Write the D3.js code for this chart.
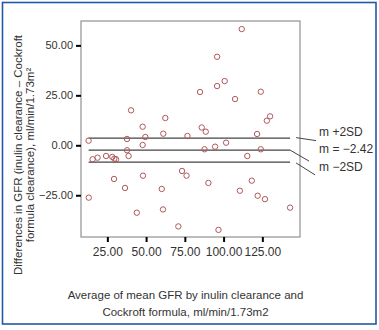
<!DOCTYPE html>
<html>
<head>
<meta charset="utf-8">
<script src="https://cdn.jsdelivr.net/npm/d3@7"></script>
<style>
  body { margin: 0; background: #fff; }
  text { font-family: "Liberation Sans", Arial, sans-serif; fill: #333; }
</style>
</head>
<body>
<script>
// average GFR (x) and difference inulin - Cockroft (y)
const avgGfr = [12.9, 40.3, 62.4, 47.8, 37.7, 49.5, 61.1, 76.7, 47.8, 37.7, 38.7, 24.2, 18.7, 15.5,
  28.2, 29.5, 30.6, 29.3, 36.4, 48.0, 60.1, 13.0, 44.0, 60.9, 70.8, 73.2, 76.1,
  111.7, 95.8, 100.7, 95.8, 84.8, 124.0, 107.4, 130.0, 127.9, 85.9, 88.5, 121.6,
  87.7, 94.5, 101.6, 124.0, 115.3, 90.2, 118.2, 110.5, 122.0, 126.7, 142.9, 96.7]
const diffGfr = [2.3, 17.5, 13.65, 9.3, 3.15, 4.15, 5.8, 4.65, 0.15, -2.5, -5.35, -5.35, -6.2, -7.0,
  -5.85, -6.7, -7.0, -16.85, -21.35, -15.2, -21.85, -26.2, -33.75, -32.1, -40.6, -12.85, -15.2,
  58.15, 44.3, 32.15, 29.65, 26.65, 26.8, 23.15, 14.5, 12.3, 8.9, 6.8, 5.65,
  -2.0, -0.7, 1.3, -2.0, -5.35, -18.85, -17.7, -22.75, -25.25, -26.95, -31.2, -42.35]

const refValues = [3.58, -2.42, -8.42]
const refLabels = ['m +2SD', 'm = \u22122.42', 'm \u22122SD']
const xTicks = [25, 50, 75, 100, 125]
const yTicks = [-25, 0, 25, 50]
const xTitle = ['Average of mean GFR by inulin clearance and', 'Cockroft formula, ml/min/1.73m2']
const yTitle = ['Differences in GFR (inulin clearance \u2013 Cockroft', 'formula clearance), ml/min/1.73m\u00b2']

const W = 379, H = 330
const margin = {top: 21, right: 79, bottom: 93, left: 81}
const width = W - margin.left - margin.right
const height = H - margin.top - margin.bottom

const svg = d3.select('body').append('svg')
  .attr('width', W).attr('height', H)

// blue outer border
svg.append('rect')
  .attr('x', 2.5).attr('y', 2.5).attr('width', 373.5).attr('height', 321.5)
  .attr('fill', 'none').attr('stroke', '#2358a6').attr('stroke-width', 1.6)

const g = svg.append('g').attr('transform', `translate(${margin.left},${margin.top})`)

const x = d3.scaleLinear().domain([8, 149.3]).range([0, width])
const y = d3.scaleLinear().domain([-45.9, 62.2]).range([height, 0])

// frame
g.append('rect')
  .attr('width', width).attr('height', height)
  .attr('fill', 'none').attr('stroke', '#9a9a9a').attr('stroke-width', 1.3)

const yAxis = g.append('g')
  .call(d3.axisLeft(y).tickValues(yTicks).tickFormat(d3.format('.2f')).tickSize(5).tickPadding(3))
yAxis.select('.domain').remove()
yAxis.selectAll('line').attr('stroke', '#000').attr('stroke-width', 2)
yAxis.selectAll('text').style('font-size', '11px').attr('fill', '#333')

const xAxis = g.append('g')
  .attr('transform', `translate(0,${height})`)
  .call(d3.axisBottom(x).tickValues(xTicks).tickFormat(d3.format('.2f')).tickSize(5).tickPadding(5))
xAxis.select('.domain').remove()
xAxis.selectAll('line').attr('stroke', '#000').attr('stroke-width', 2)
xAxis.selectAll('text').style('font-size', '12px').attr('fill', '#333')

// mean and limits of agreement
const xr = d3.extent(avgGfr)
g.selectAll('.ref').data(refValues).join('line')
  .attr('class', 'ref')
  .attr('x1', x(xr[0])).attr('x2', x(xr[1]))
  .attr('y1', d => y(d)).attr('y2', d => y(d))
  .attr('stroke', '#444').attr('stroke-width', 1.2)

// leader lines to the labels
const xe = x(xr[1])
const leaders = [[6, -0.5, 26, 2.5], [0, 0, 19, 11], [6, 0.8, 25, 12.8]]
g.selectAll('.leader').data(refValues).join('line')
  .attr('class', 'leader')
  .attr('x1', (d, i) => xe + leaders[i][0]).attr('y1', (d, i) => y(d) + leaders[i][1])
  .attr('x2', (d, i) => xe + leaders[i][2]).attr('y2', (d, i) => y(d) + leaders[i][3])
  .attr('stroke', '#444').attr('stroke-width', 1)

g.selectAll('.reflab').data(refLabels).join('text')
  .attr('class', 'reflab')
  .attr('x', xe + 29)
  .attr('y', (d, i) => y(refValues[1]) + 3 + (i - 1) * 17.5)
  .style('font-size', '12px')
  .text(d => d)

// points
g.selectAll('circle').data(avgGfr).join('circle')
  .attr('cx', d => x(d))
  .attr('cy', (d, i) => y(diffGfr[i]))
  .attr('r', 2.7)
  .attr('fill', 'none').attr('stroke', '#b0595c').attr('stroke-width', 1)

// axis titles
svg.selectAll('.xt').data(xTitle).join('text')
  .attr('class', 'xt')
  .attr('x', 185.5).attr('y', (d, i) => 299 + i * 17)
  .attr('text-anchor', 'middle')
  .style('font-size', '11.5px')
  .text(d => d)

svg.selectAll('.yt').data(yTitle).join('text')
  .attr('class', 'yt')
  .attr('transform', (d, i) => `translate(${22 + i * 12},155) rotate(-90)`)
  .attr('text-anchor', 'middle')
  .style('font-size', '11.5px')
  .text(d => d)
</script>
</body>
</html>
